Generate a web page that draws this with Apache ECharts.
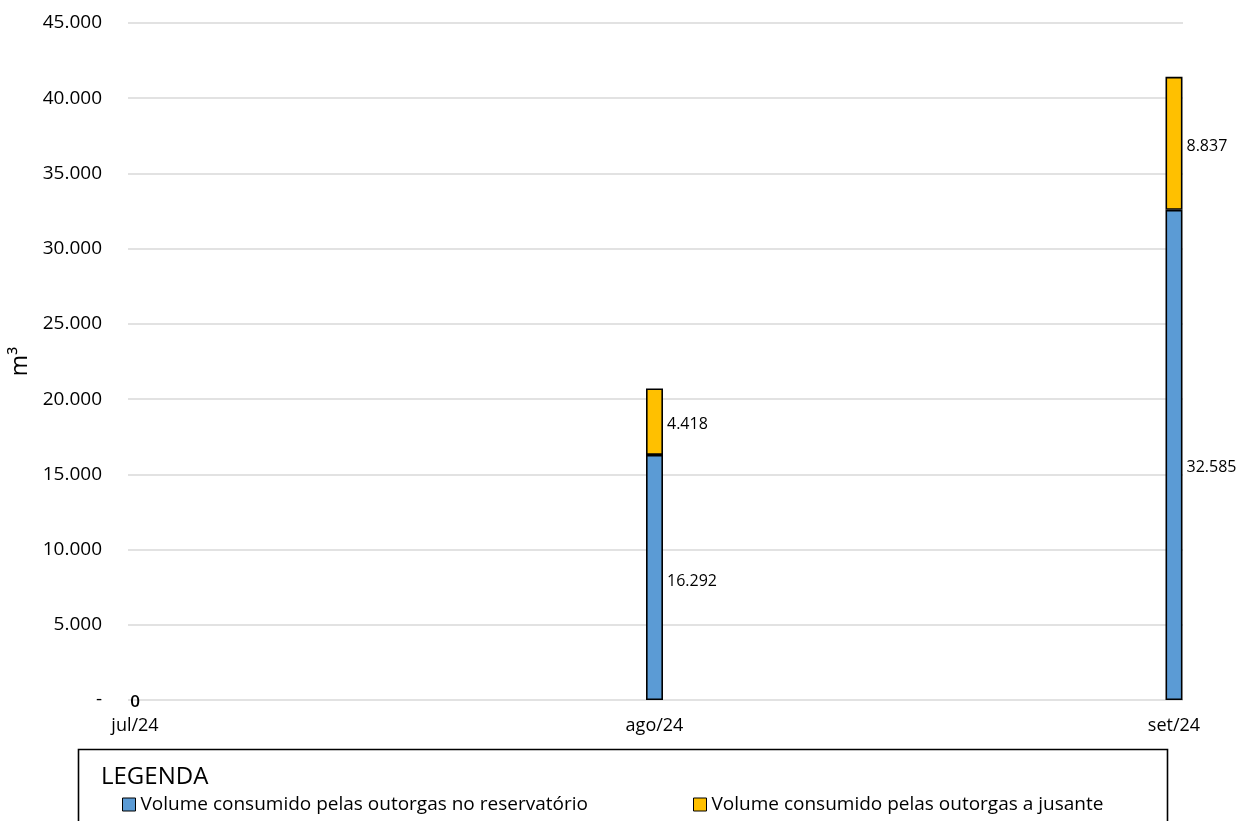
<!DOCTYPE html>
<html>
<head>
<meta charset="utf-8">
<script src="https://cdn.jsdelivr.net/npm/echarts@6/dist/echarts.min.js"></script>
<style>
html,body{margin:0;padding:0;background:#fff;}
#chart{width:1239px;height:821px;}
</style>
</head>
<body>
<div id="chart"></div>
<script>
// ---- data ----
const categories = ['jul/24', 'ago/24', 'set/24'];
const reservatorio = [0, 16292, 32585];
const jusante = [0, 4418, 8837];
const yTicks = [0, 5000, 10000, 15000, 20000, 25000, 30000, 35000, 40000, 45000];
const seriesNames = ['Volume consumido pelas outorgas no reservatório', 'Volume consumido pelas outorgas a jusante'];

const FONT = 'Open Sans';
function fmt(v) {
  return String(Math.round(v)).replace(/\B(?=(\d{3})+(?!\d))/g, '.');
}

const blueData = reservatorio.map(function (v, i) {
  if (v === 0) return { value: v, label: { position: 'inside', offset: [0, 2], fontSize: 17, fontWeight: 600 }, itemStyle: { borderWidth: 0 } };
  if (i === 2) return { value: v, label: { offset: [0, 13] } };
  return v;
});
const yellowData = jusante.map(function (v) {
  if (v === 0) return { value: v, label: { show: false }, itemStyle: { borderWidth: 0 } };
  return v;
});

const chart = echarts.init(document.getElementById('chart'));
const yMin = yTicks[0], yMax = yTicks[yTicks.length - 1], yStep = yTicks[1] - yTicks[0];

chart.setOption({
  backgroundColor: '#fff',
  animation: false,
  textStyle: { fontFamily: FONT },
  title: {
    text: 'LEGENDA', left: 96, top: 760,
    textStyle: { fontFamily: FONT, fontSize: 24, fontWeight: 'normal', color: '#000' }
  },
  graphic: [{
    type: 'rect', left: 76, top: 747, shape: { width: 1089, height: 100 },
    style: { fill: 'none', stroke: '#000', lineWidth: 1.6 }, silent: true
  }],
  legend: [
    {
      data: [seriesNames[0]], left: 122, top: 795, itemWidth: 13, itemHeight: 13,
      icon: 'rect', itemStyle: { borderColor: '#000', borderWidth: 1 },
      textStyle: { fontFamily: FONT, fontSize: 19, color: '#000' }, padding: 0
    },
    {
      data: [seriesNames[1]], left: 693, top: 795, itemWidth: 13, itemHeight: 13,
      icon: 'rect', itemStyle: { borderColor: '#000', borderWidth: 1 },
      textStyle: { fontFamily: FONT, fontSize: 19, color: '#000' }, padding: 0
    }
  ],
  grid: [
    { left: 128, right: 56, top: 23, bottom: 121, containLabel: false },
    { left: 135, right: 65, top: 23, bottom: 121, containLabel: false }
  ],
  xAxis: [
    { type: 'value', gridIndex: 0, min: 0, max: 1, show: false },
    {
      type: 'category', gridIndex: 1, data: categories, boundaryGap: false,
      axisLine: { show: false }, axisTick: { show: false },
      axisLabel: { fontFamily: FONT, fontSize: 18, color: '#000', margin: 17, interval: 0 }
    }
  ],
  yAxis: [
    {
      type: 'value', gridIndex: 0, min: yMin, max: yMax, interval: yStep,
      name: 'm³', nameLocation: 'middle', nameGap: 96, nameRotate: 90,
      nameTextStyle: { fontFamily: FONT, fontSize: 23, color: '#000' },
      axisLine: { show: false }, axisTick: { show: false },
      axisLabel: {
        fontFamily: FONT, fontSize: 19, color: '#000', margin: 26,
        formatter: function (v) { return v === 0 ? '-' : fmt(v); }
      },
      splitLine: { lineStyle: { color: '#D9D9D9', width: 1.5 } }
    },
    {
      type: 'value', gridIndex: 1, min: yMin, max: yMax, interval: yStep, show: false,
      splitLine: { show: false }
    }
  ],
  series: [
    {
      name: seriesNames[0], type: 'bar', stack: 'total', xAxisIndex: 1, yAxisIndex: 1,
      data: blueData, barWidth: 17,
      itemStyle: { color: '#5B9BD5', borderColor: '#000', borderWidth: 1.6 },
      label: {
        show: true, position: 'right', distance: 4, offset: [0, 4],
        fontFamily: FONT, fontSize: 16, color: '#000',
        formatter: function (p) { return fmt(p.value); }
      }
    },
    {
      name: seriesNames[1], type: 'bar', stack: 'total', xAxisIndex: 1, yAxisIndex: 1,
      data: yellowData, barWidth: 17,
      itemStyle: { color: '#FFC000', borderColor: '#000', borderWidth: 1.6 },
      label: {
        show: true, position: 'right', distance: 4, offset: [0, 3],
        fontFamily: FONT, fontSize: 16, color: '#000',
        formatter: function (p) { return fmt(p.value); }
      }
    }
  ]
});
</script>
</body>
</html>
